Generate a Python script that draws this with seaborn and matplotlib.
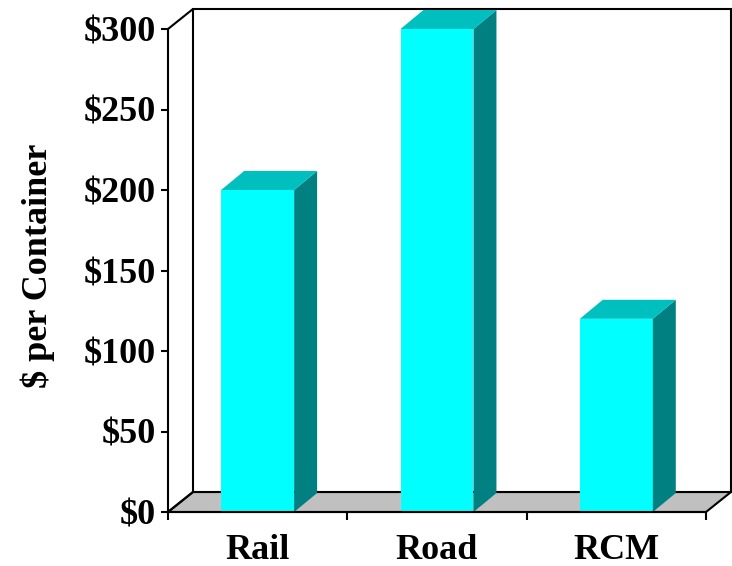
import matplotlib
matplotlib.use("Agg")
import matplotlib.pyplot as plt
from matplotlib.patches import Polygon
import seaborn as sns
import pandas as pd

modes = ["Rail", "Road", "RCM"]
cost = [200, 300, 120]
yticks = [0, 50, 100, 150, 200, 250, 300]

front = "#00FFFF"
top = "#00BFBF"
side = "#008080"
floor = "#C0C0C0"

sns.set_theme(style="white")
plt.rcParams["font.family"] = ["Liberation Serif", "DejaVu Serif"]
plt.rcParams["font.weight"] = "bold"
plt.rcParams["text.color"] = "black"
plt.rcParams["axes.labelcolor"] = "black"
plt.rcParams["xtick.color"] = "black"
plt.rcParams["ytick.color"] = "black"

fig = plt.figure(figsize=(7.32, 5.66), dpi=100)
ax = fig.add_axes([168 / 732, 54 / 566, 538 / 732, 483 / 566])

df = pd.DataFrame({"mode": modes, "cost": cost})

# depth of the box (walls) and of the bars, in data units
DX, DY = 0.139, 12.4
bx, by = 0.128, 11.8

# back wall and floor
back = Polygon([(-0.5 + DX, DY), (2.5 + DX, DY), (2.5 + DX, 300 + DY), (-0.5 + DX, 300 + DY)],
               closed=True, facecolor="white", edgecolor="black", lw=1.5, zorder=0, clip_on=False)
ax.add_patch(back)
flr = Polygon([(-0.5, 0), (2.5, 0), (2.5 + DX, DY), (-0.5 + DX, DY)],
              closed=True, facecolor=floor, edgecolor="black", lw=1.5, zorder=1, clip_on=False)
ax.add_patch(flr)
ax.plot([-0.5, -0.5 + DX], [300, 300 + DY], color="black", lw=1.5, clip_on=False, zorder=1)
ax.plot([-0.5, -0.5 + DX], [0, DY], color="black", lw=1.5, clip_on=False, zorder=1)

sns.barplot(data=df, x="mode", y="cost", color=front, saturation=1, width=0.407,
            ax=ax, zorder=3)

for p in ax.patches[2:]:
    x0 = p.get_x()
    w = p.get_width()
    h = p.get_height()
    p.set_linewidth(0)
    p.set_facecolor(front)
    ax.add_patch(Polygon([(x0 + w, 0), (x0 + w + bx, by), (x0 + w + bx, h + by), (x0 + w, h)],
                         closed=True, facecolor=side, edgecolor="none", zorder=3, clip_on=False))
    ax.add_patch(Polygon([(x0, h), (x0 + w, h), (x0 + w + bx, h + by), (x0 + bx, h + by)],
                         closed=True, facecolor=top, edgecolor="none", zorder=3, clip_on=False))

ax.set_xlim(-0.5, 2.5)
ax.set_ylim(0, 300)
ax.set_yticks(yticks)
ax.set_yticklabels(["$" + str(v) for v in yticks])
ax.set_xticks([-0.5, 0.5, 1.5, 2.5], minor=True)

for s in ["top", "right"]:
    ax.spines[s].set_visible(False)
for s in ["left", "bottom"]:
    ax.spines[s].set_color("black")
    ax.spines[s].set_linewidth(1.5)
    ax.spines[s].set_zorder(4)

ax.tick_params(axis="y", which="major", left=True, length=5, width=1.5, pad=4,
               labelsize=26, color="black", labelcolor="black")
ax.tick_params(axis="x", which="major", bottom=False, length=0, pad=16, labelsize=26,
               labelcolor="black")
ax.tick_params(axis="x", which="minor", bottom=True, length=6, width=1.5, color="black")
for lab in ax.get_xticklabels() + ax.get_yticklabels():
    lab.set_fontweight("bold")

ax.set_xlabel("")
ax.set_ylabel("$ per Container", fontsize=26, fontweight="bold", color="black")
ax.yaxis.set_label_coords(-0.21, 0.51)
ax.set_facecolor("none")

fig.savefig("out.png", dpi=100)
